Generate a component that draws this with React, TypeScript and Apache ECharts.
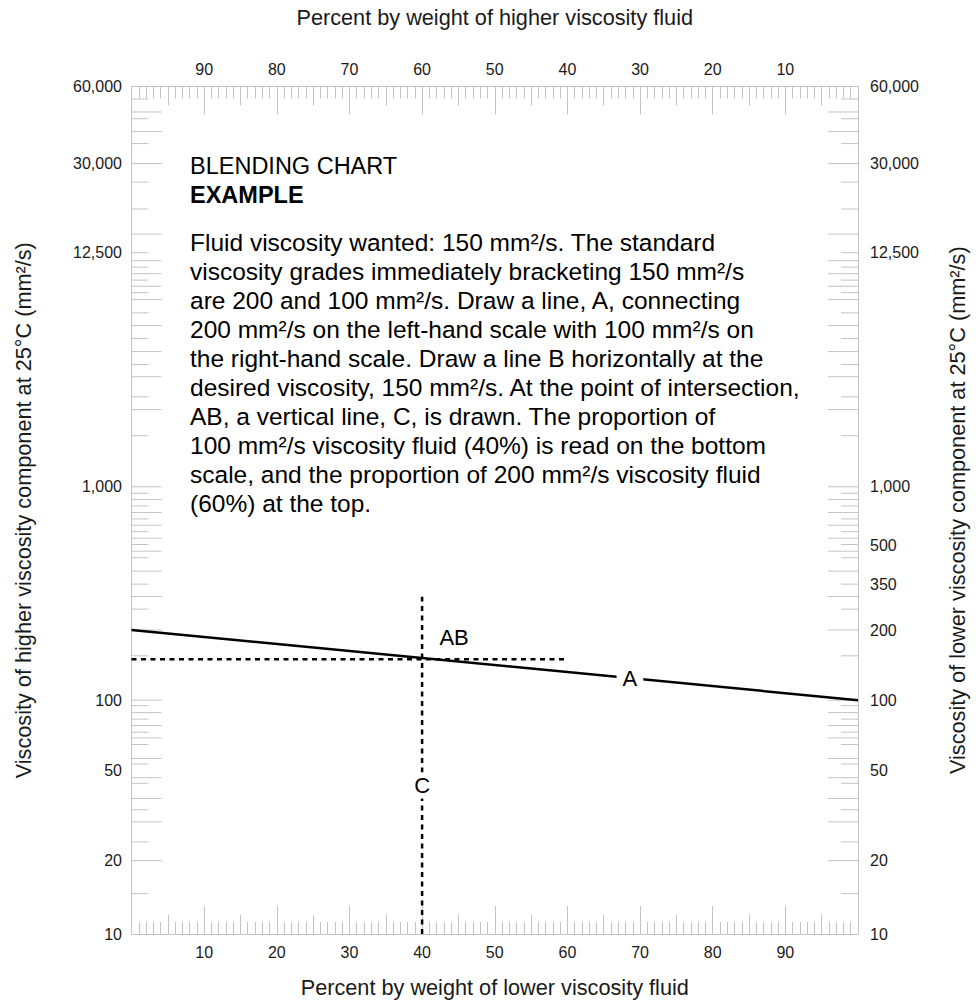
import React, { useEffect, useRef } from 'react';
import * as echarts from 'echarts';

// ---- Axis scale of the blending chart (viscosity -> chart scale units 0..1000)
const SCALE_VALUES = [10, 20, 50, 100, 200, 350, 500, 1000, 12500, 30000, 60000];
const SCALE_UNITS = [0, 86.6, 192.6, 275.9, 358.7, 412.8, 458.2, 527.7, 803.9, 909.1, 1000];

// ---- Tick labels
const LEFT_LABELS = [10, 20, 50, 100, 1000, 12500, 30000, 60000];
const RIGHT_LABELS = [10, 20, 50, 100, 200, 350, 500, 1000, 12500, 30000, 60000];

// ---- Graduation marks (viscosity values)
const LONG_TICKS = [47700, 40000, 30000, 15000, 11470, 9970, 8700, 7535, 5700, 4300, 3280, 2300, 1000, 860, 739, 636, 546, 475, 395, 301, 200, 100, 88.5, 78, 69, 56.4, 46.6, 37.7, 29.7, 20];
const SHORT_TICKS = [53600, 44900, 35900, 25000, 19200, 12500, 10700, 9300, 8125, 6530, 4950, 3740, 2640, 1735, 926, 798, 685, 590, 507, 447, 350, 258, 155, 94.8, 83, 73, 64.7, 53.4, 44, 33.6, 24.2, 14.65];

// ---- Example construction
const LINE_A = [
  { pct: 0, visc: 200 },
  { pct: 100, visc: 100 },
];
const TARGET_VISC = 150;
const LINE_B_PCT = [0, 60];
const BLEND_PCT = 40;
const LINE_C_VISC = [10, 300];
const LABEL_A_PCT = 68.6;
const LABEL_C_VISC = 43;

const TEXT_LINES = [
  'Fluid viscosity wanted: 150 mm²/s. The standard',
  'viscosity grades immediately bracketing 150 mm²/s',
  'are 200 and 100 mm²/s. Draw a line, A, connecting',
  '200 mm²/s on the left-hand scale with 100 mm²/s on',
  'the right-hand scale. Draw a line B horizontally at the',
  'desired viscosity, 150 mm²/s. At the point of intersection,',
  'AB, a vertical line, C, is drawn. The proportion of',
  '100 mm²/s viscosity fluid (40%) is read on the bottom',
  'scale, and the proportion of 200 mm²/s viscosity fluid',
  '(60%) at the top.',
];

const FONT = "'Liberation Sans', Arial, Helvetica, sans-serif";

function toUnits(v: number): number {
  const n = SCALE_VALUES.length;
  let i = 0;
  while (i < n - 2 && v > SCALE_VALUES[i + 1]) i++;
  const a = Math.log(SCALE_VALUES[i]);
  const b = Math.log(SCALE_VALUES[i + 1]);
  const f = (Math.log(v) - a) / (b - a);
  return SCALE_UNITS[i] + f * (SCALE_UNITS[i + 1] - SCALE_UNITS[i]);
}

function labelFor(list: number[]) {
  return (val: number) => {
    let best = list[0];
    let bd = Infinity;
    for (const v of list) {
      const d = Math.abs(toUnits(v) - val);
      if (d < bd) {
        bd = d;
        best = v;
      }
    }
    return best.toLocaleString('en-US');
  };
}

export default function App() {
  const ref = useRef<HTMLDivElement>(null);

  useEffect(() => {
    if (!ref.current) return;
    const chart = echarts.init(ref.current, null, { renderer: 'svg' });

    const tickColor = '#c4c4c4';
    const labelStyle = { fontSize: 16, color: '#1a1a1a', fontFamily: FONT };
    const nameStyle = { fontSize: 21.7, color: '#1a1a1a', fontFamily: FONT };

    const xBase = (position: 'top' | 'bottom', inverse: boolean) => ({
      type: 'value',
      position,
      inverse,
      min: 0,
      max: 100,
      splitLine: { show: false },
    });

    const yBase = (position: 'left' | 'right') => ({
      type: 'value',
      position,
      min: 0,
      max: 1000,
      splitLine: { show: false },
      axisTick: { show: false },
    });

    const yA0 = toUnits(LINE_A[0].visc);
    const yA1 = toUnits(LINE_A[1].visc);
    const onA = (pct: number) => yA0 + ((yA1 - yA0) * (pct - LINE_A[0].pct)) / (LINE_A[1].pct - LINE_A[0].pct);

    // graduation marks: [side pct, scale units, kind(0 long / 1 short)]
    const gradData: number[][] = [];
    [0, 100].forEach((side) => {
      LONG_TICKS.forEach((v) => gradData.push([side, toUnits(v), 0]));
      SHORT_TICKS.forEach((v) => gradData.push([side, toUnits(v), 1]));
    });

    const option = {
      animation: false,
      backgroundColor: '#fff',
      grid: { left: 131.5, right: 122, top: 86.5, bottom: 67, containLabel: false },
      xAxis: [
        {
          ...xBase('bottom', false),
          interval: 10,
          axisLine: { show: true, onZero: false, lineStyle: { color: tickColor, width: 1 } },
          axisTick: { show: true, inside: true, length: 28, lineStyle: { color: tickColor } },
          axisLabel: { ...labelStyle, margin: 10, showMinLabel: false, showMaxLabel: false },
          name: 'Percent by weight of lower viscosity fluid',
          nameLocation: 'middle',
          nameGap: 42,
          nameTextStyle: nameStyle,
        },
        {
          ...xBase('bottom', false),
          interval: 5,
          axisLine: { show: false, onZero: false },
          axisTick: { show: true, inside: true, length: 19, lineStyle: { color: tickColor } },
          minorTick: { show: true, splitNumber: 5, length: 12, lineStyle: { color: tickColor } },
          axisLabel: { show: false },
        },
        {
          ...xBase('top', true),
          interval: 10,
          axisLine: { show: true, onZero: false, lineStyle: { color: tickColor, width: 1 } },
          axisTick: { show: true, inside: true, length: 28, lineStyle: { color: tickColor } },
          axisLabel: { ...labelStyle, margin: 9, showMinLabel: false, showMaxLabel: false },
          name: 'Percent by weight of higher viscosity fluid',
          nameLocation: 'middle',
          nameGap: 58,
          nameTextStyle: nameStyle,
        },
        {
          ...xBase('top', true),
          interval: 5,
          axisLine: { show: false, onZero: false },
          axisTick: { show: true, inside: true, length: 19, lineStyle: { color: tickColor } },
          minorTick: { show: true, splitNumber: 5, length: 12, lineStyle: { color: tickColor } },
          axisLabel: { show: false },
        },
      ],
      yAxis: [
        {
          ...yBase('left'),
          axisLine: { show: true, onZero: false, lineStyle: { color: tickColor, width: 1 } },
          axisLabel: { ...labelStyle, margin: 9.5, customValues: LEFT_LABELS.map(toUnits), formatter: labelFor(LEFT_LABELS) },
          name: 'Viscosity of higher viscosity component at 25°C (mm²/s)',
          nameLocation: 'middle',
          nameGap: 97,
          nameTextStyle: nameStyle,
        },
        {
          ...yBase('right'),
          axisLine: { show: true, onZero: false, lineStyle: { color: tickColor, width: 1 } },
          axisLabel: { ...labelStyle, margin: 12, customValues: RIGHT_LABELS.map(toUnits), formatter: labelFor(RIGHT_LABELS) },
          name: 'Viscosity of lower viscosity component at 25°C (mm²/s)',
          nameLocation: 'middle',
          nameGap: 88,
          nameTextStyle: nameStyle,
        },
      ],
      series: [
        {
          name: 'graduations',
          type: 'custom',
          xAxisIndex: 0,
          yAxisIndex: 0,
          silent: true,
          clip: false,
          encode: { x: 0, y: 1 },
          data: gradData,
          renderItem: (params: any, api: any) => {
            const side = api.value(0);
            const p = api.coord([side, api.value(1)]);
            const len = api.value(2) === 0 ? 30 : 17;
            const dir = side === 0 ? 1 : -1;
            return {
              type: 'line',
              shape: { x1: p[0], y1: p[1], x2: p[0] + dir * len, y2: p[1] },
              style: { stroke: tickColor, lineWidth: 1 },
            };
          },
          z: 1,
        },
        {
          name: 'A',
          type: 'line',
          xAxisIndex: 0,
          yAxisIndex: 0,
          symbol: 'none',
          silent: true,
          lineStyle: { color: '#000', width: 2.5 },
          data: LINE_A.map((p) => [p.pct, toUnits(p.visc)]),
          z: 3,
        },
        {
          name: 'B',
          type: 'line',
          xAxisIndex: 0,
          yAxisIndex: 0,
          symbol: 'none',
          silent: true,
          lineStyle: { color: '#000', width: 2.5, type: [5, 4.5] },
          data: LINE_B_PCT.map((p) => [p, toUnits(TARGET_VISC)]),
          z: 3,
        },
        {
          name: 'C',
          type: 'line',
          xAxisIndex: 0,
          yAxisIndex: 0,
          symbol: 'none',
          silent: true,
          lineStyle: { color: '#000', width: 2.5, type: [5, 4.5] },
          data: LINE_C_VISC.map((v) => [BLEND_PCT, toUnits(v)]),
          z: 3,
        },
        {
          name: 'labels',
          type: 'scatter',
          xAxisIndex: 0,
          yAxisIndex: 0,
          symbolSize: 1,
          silent: true,
          itemStyle: { color: 'rgba(0,0,0,0)', opacity: 1 },
          label: {
            show: true,
            position: 'inside',
            fontSize: 22,
            color: '#000',
            opacity: 1,
            textBorderWidth: 0,
            fontFamily: FONT,
          },
          data: [
            { value: [LABEL_A_PCT, onA(LABEL_A_PCT)], label: { formatter: 'A', backgroundColor: '#fff', padding: [2, 6] } },
            { value: [BLEND_PCT, toUnits(LABEL_C_VISC)], label: { formatter: 'C', backgroundColor: '#fff', padding: [2, 3] } },
            { value: [BLEND_PCT, toUnits(TARGET_VISC)], label: { formatter: 'AB', offset: [32, -22] } },
          ],
          z: 5,
        },
      ],
      graphic: [
        {
          type: 'text',
          left: 190,
          top: 151,
          style: { text: 'BLENDING CHART', fontSize: 23.5, fontFamily: FONT, fill: '#000', lineHeight: 30 },
        },
        {
          type: 'text',
          left: 190,
          top: 180,
          style: { text: 'EXAMPLE', fontSize: 23.5, fontWeight: 'bold', fontFamily: FONT, fill: '#000', lineHeight: 30 },
        },
        {
          type: 'text',
          left: 190,
          top: 228,
          style: { text: TEXT_LINES.join('\n'), fontSize: 24.5, fontFamily: FONT, fill: '#000', lineHeight: 29 },
        },
      ],
    };

    chart.setOption(option as any);
    return () => chart.dispose();
  }, []);

  return (
    <div
      ref={ref}
      style={{ position: 'absolute', left: 0, top: 0, width: 980, height: 1003, background: '#fff' }}
    />
  );
}
